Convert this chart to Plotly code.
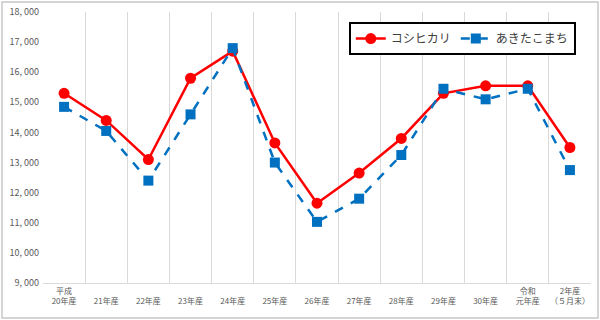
import plotly.graph_objects as go

categories = ["平成<br>20年産", " <br>21年産", " <br>22年産", " <br>23年産", " <br>24年産", " <br>25年産",
              " <br>26年産", " <br>27年産", " <br>28年産", " <br>29年産", " <br>30年産",
              "令和<br>元年産", "2年産<br>（５月末）"]
koshihikari = [15300, 14400, 13100, 15800, 16700, 13650, 11650, 12650, 13800, 15300, 15550, 15550, 13500]
akitakomachi = [14850, 14050, 12400, 14600, 16800, 13000, 11030, 11800, 13250, 15450, 15100, 15450, 12750]
y_ticks = [9000, 10000, 11000, 12000, 13000, 14000, 15000, 16000, 17000, 18000]
y_ticktext = [f"{v // 1000}, {v % 1000:03d}" for v in y_ticks]

FONT = "Noto Sans CJK JP"

fig = go.Figure()
fig.add_trace(go.Scatter(
    x=categories, y=koshihikari, name="コシヒカリ", mode="lines+markers",
    line=dict(color="#ff0000", width=2.5),
    marker=dict(symbol="circle", size=11, color="#ff0000"),
))
fig.add_trace(go.Scatter(
    x=categories, y=akitakomachi, name="あきたこまち", mode="lines+markers",
    line=dict(color="#0070c0", width=2.5, dash="dash"),
    marker=dict(symbol="square", size=10, color="#0070c0"),
))

fig.update_layout(
    width=600, height=320,
    margin=dict(l=43, r=9, t=12, b=37, autoexpand=False),
    paper_bgcolor="white", plot_bgcolor="white",
    font=dict(family=FONT, size=10, color="#595959"),
    showlegend=True,
    legend=dict(
        orientation="h", x=0.558, y=0.963, xanchor="left", yanchor="top",
        bordercolor="black", borderwidth=2, bgcolor="white",
        font=dict(family=FONT, size=12, color="#404040"),
        itemwidth=30,
    ),
    xaxis=dict(
        type="category", range=[-0.5, 12.5], tickson="boundaries", showgrid=True,
        gridcolor="#d9d9d9", gridwidth=1, ticks="", showline=True, linecolor="#d9d9d9",
        linewidth=1, tickangle=0, automargin=False,
        tickfont=dict(size=8, color="#595959"),
    ),
    yaxis=dict(
        range=[9000, 18000], tickvals=y_ticks, ticktext=y_ticktext,
        showgrid=False, zeroline=False, ticks="", showline=False, automargin=False,
        tickfont=dict(size=9, color="#595959"), ticklabelstandoff=3,
    ),
    shapes=[dict(type="rect", xref="paper", yref="paper",
                 x0=-41 / 548, x1=1 + 7 / 548, y0=-35 / 271, y1=1 + 10 / 271,
                 line=dict(color="#c8c8c8", width=1.5))],
)

fig.write_html("out.html")
